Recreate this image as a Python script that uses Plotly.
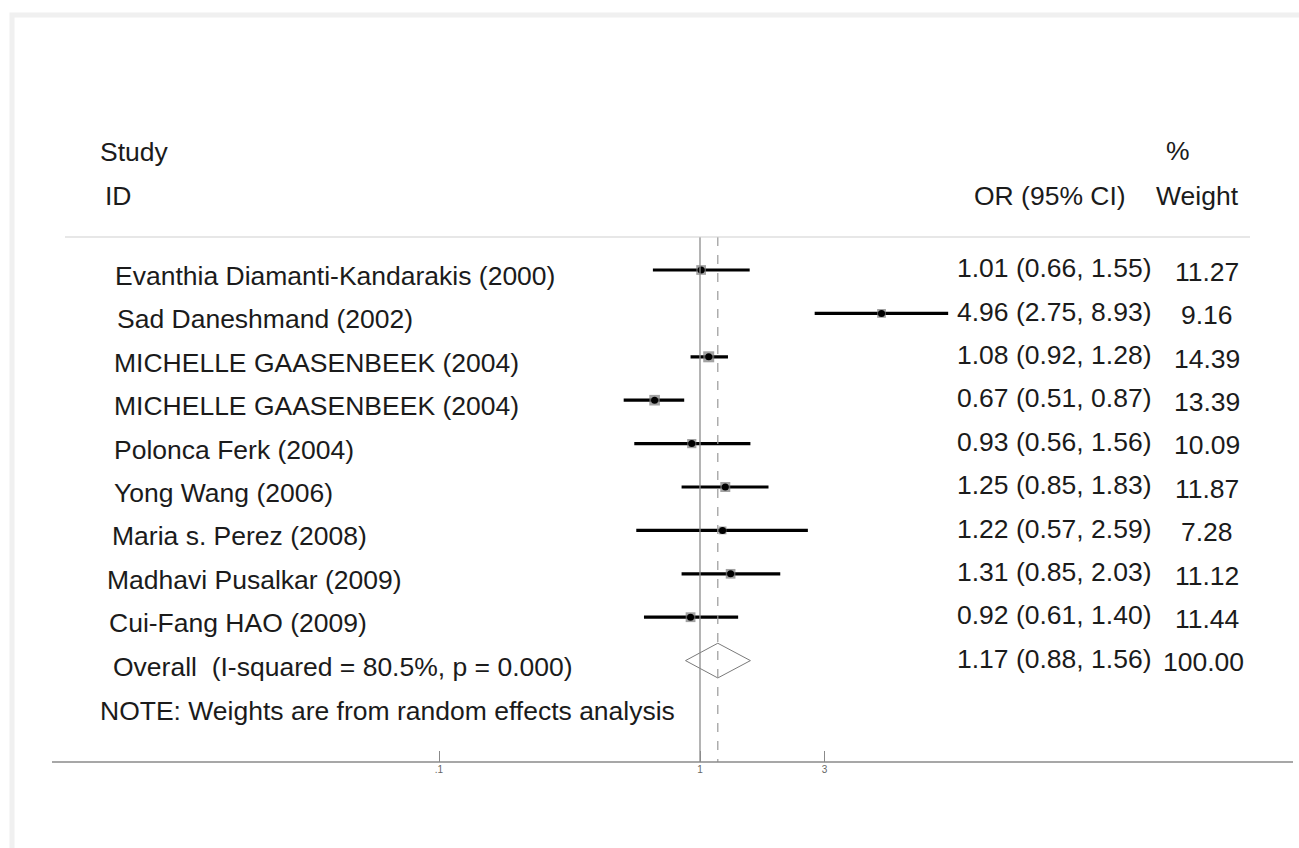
import plotly.graph_objects as go
import numpy as np

# ---- data ----
studies = [
    "Evanthia Diamanti-Kandarakis (2000)",
    "Sad Daneshmand (2002)",
    "MICHELLE GAASENBEEK (2004)",
    "MICHELLE GAASENBEEK (2004)",
    "Polonca Ferk (2004)",
    "Yong Wang (2006)",
    "Maria s. Perez (2008)",
    "Madhavi Pusalkar (2009)",
    "Cui-Fang HAO (2009)",
]
odds_ratio = [1.01, 4.96, 1.08, 0.67, 0.93, 1.25, 1.22, 1.31, 0.92]
ci_low = [0.66, 2.75, 0.92, 0.51, 0.56, 0.85, 0.57, 0.85, 0.61]
ci_high = [1.55, 8.93, 1.28, 0.87, 1.56, 1.83, 2.59, 2.03, 1.40]
weights = [11.27, 9.16, 14.39, 13.39, 10.09, 11.87, 7.28, 11.12, 11.44]

overall_label = "Overall  (I-squared = 80.5%, p = 0.000)"
overall_or, overall_low, overall_high, overall_weight = 1.17, 0.88, 1.56, 100.00
note = "NOTE: Weights are from random effects analysis"

tick_vals = [0.1, 1, 3]
tick_text = [".1", "1", "3"]

# ---- geometry of the page ----
W, H = 1299, 848
BOTTOM = 86                      # space under the axis line
PLOT_H = H - BOTTOM
ROW0, ROW_STEP = 270.0, 43.4     # pixel row of first study and row spacing
X_ONE, DECADE = 700.0, 261.0     # pixel of OR = 1 and pixels per decade

def px_x(p):
    return p / W

def px_y(p):
    return 1 - p / PLOT_H

def row_of(p):
    return (p - ROW0) / ROW_STEP

FONT = "Liberation Sans, Arial, sans-serif"
TXT = "#1b1b1b"
FS = 26.5

n = len(studies)
rows = list(range(n))
overall_row = n

fig = go.Figure()

# confidence intervals
for i in rows:
    fig.add_trace(go.Scatter(
        x=[ci_low[i], ci_high[i]], y=[i, i], mode="lines",
        line=dict(color="black", width=3.2), hoverinfo="skip", showlegend=False))

# weight boxes
fig.add_trace(go.Scatter(
    x=odds_ratio, y=rows, mode="markers",
    marker=dict(symbol="square", color="#7a7a7a",
                size=[2.9 * np.sqrt(w) for w in weights], line=dict(width=0)),
    hoverinfo="skip", showlegend=False))

# point estimates
fig.add_trace(go.Scatter(
    x=odds_ratio, y=rows, mode="markers",
    marker=dict(symbol="circle", color="black", size=7),
    hoverinfo="skip", showlegend=False))

# pooled estimate diamond
dh = 0.40
fig.add_trace(go.Scatter(
    x=[overall_low, overall_or, overall_high, overall_or, overall_low],
    y=[overall_row, overall_row - dh, overall_row, overall_row + dh, overall_row],
    mode="lines", line=dict(color="#7a7a7a", width=1), fill="toself",
    fillcolor="rgba(255,255,255,0)", hoverinfo="skip", showlegend=False))

y_top_line = row_of(237)
y_bottom = (PLOT_H - ROW0) / ROW_STEP

shapes = [
    # null line
    dict(type="line", xref="x", yref="y", x0=1, x1=1, y0=y_top_line, y1=y_bottom,
         line=dict(color="#8c8c8c", width=1.3)),
    # pooled estimate line
    dict(type="line", xref="x", yref="y", x0=overall_or, x1=overall_or,
         y0=y_top_line, y1=y_bottom, line=dict(color="#9a9a9a", width=1.2, dash="dash")),
    # header rule
    dict(type="line", xref="paper", yref="y", x0=px_x(65), x1=px_x(1250),
         y0=y_top_line, y1=y_top_line, line=dict(color="#cfcfcf", width=1.2)),
    # axis line
    dict(type="line", xref="paper", yref="paper", x0=px_x(52), x1=px_x(1293),
         y0=0, y1=0, line=dict(color="#8a8a8a", width=1.6)),
    # faint frame
    dict(type="rect", xref="paper", yref="paper", x0=px_x(12), x1=px_x(1320),
         y0=px_y(15), y1=px_y(870), line=dict(color="#f0f0f0", width=5),
         fillcolor="rgba(0,0,0,0)", layer="below"),
]

ann = []

def label(text, xp, yrow, anchor="left", size=FS):
    ann.append(dict(text=text, x=px_x(xp), y=yrow, xref="paper", yref="y",
                    xanchor=anchor, yanchor="middle", showarrow=False,
                    font=dict(family=FONT, size=size, color=TXT)))

# headers
label("Study", 98, row_of(152))
label("ID", 103, row_of(196))
label("%", 1178, row_of(151), anchor="center")
label("OR (95% CI)", 972, row_of(196))
label("Weight", 1197, row_of(196), anchor="center")

study_x = [113, 115, 112, 112, 112, 112, 110, 105, 107]
for i in rows:
    label(studies[i], study_x[i], i + 0.14)
    label(f"{odds_ratio[i]:.2f} ({ci_low[i]:.2f}, {ci_high[i]:.2f})", 955, i - 0.04)
    label(f"{weights[i]:.2f}", 1207, i + 0.04, anchor="center")

label(overall_label, 111, overall_row + 0.14)
label(f"{overall_or:.2f} ({overall_low:.2f}, {overall_high:.2f})", 955, overall_row - 0.04)
label(f"{overall_weight:.2f}", 1203, overall_row + 0.04, anchor="center")
label(note, 98, row_of(711))

fig.update_layout(
    width=W, height=H,
    margin=dict(l=0, r=0, t=0, b=BOTTOM),
    paper_bgcolor="white", plot_bgcolor="white",
    showlegend=False,
    shapes=shapes,
    annotations=ann,
    xaxis=dict(
        type="log",
        range=[-X_ONE / DECADE, (W - X_ONE) / DECADE],
        tickvals=tick_vals, ticktext=tick_text,
        ticks="inside", ticklen=11, tickwidth=1, tickcolor="#8a8a8a",
        tickfont=dict(family=FONT, size=10, color="#666666"),
        showgrid=False, zeroline=False, showline=False,
    ),
    yaxis=dict(
        range=[(PLOT_H - ROW0) / ROW_STEP, -ROW0 / ROW_STEP],
        showgrid=False, zeroline=False, showline=False,
        showticklabels=False, ticks="",
    ),
)

fig.write_html("out.html")
